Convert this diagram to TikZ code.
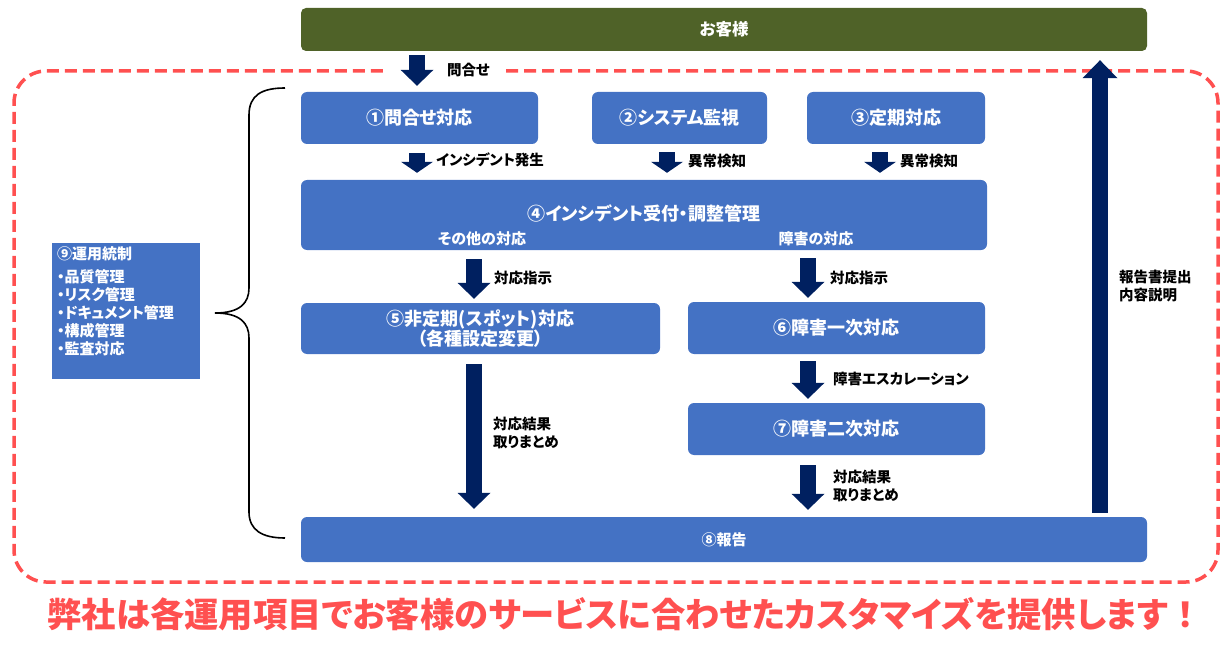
\documentclass[tikz,border=0pt]{standalone}
\usepackage{fontspec}
\setmainfont{Noto Sans CJK JP}[RawFeature=+palt]
\usetikzlibrary{arrows.meta}
\definecolor{custolive}{HTML}{4F6228}
\definecolor{boxblue}{HTML}{4472C4}
\definecolor{arrnavy}{HTML}{002060}
\definecolor{dashred}{HTML}{FF5050}
\tikzset{
  bx/.style={fill=boxblue, rounded corners=6pt, text=white, inner sep=0pt, align=center,
    font=\bfseries\fontsize{18}{19}\selectfont},
  wlbl/.style={text=white, inner sep=0pt, font=\bfseries\fontsize{15}{16}\selectfont},
  lbl/.style={anchor=west, inner sep=0pt, align=left, font=\bfseries\fontsize{14.5}{18}\selectfont},
  blk/.style={draw=arrnavy, line width=16pt, -{Triangle[width=33pt,length=16pt,line width=0pt]}},
  blks/.style={draw=arrnavy, line width=16pt, -{Triangle[width=32pt,length=11pt,line width=0pt]}},
}
\begin{document}
\begin{tikzpicture}[x=1pt,y=-1pt]
\useasboundingbox (0,0) rectangle (1231,647);
% dashed frame
\draw[dashred, line width=3.5pt, dash pattern=on 12pt off 6pt, rounded corners=32pt]
  (506,71) -- (1218,71) -- (1218,582) -- (14,582) -- (14,71) -- (387,71);
% boxes
\node[bx, fill=custolive, rounded corners=5pt, minimum width=846pt, minimum height=43pt,
  font=\bfseries\fontsize{16.5}{18}\selectfont] (cust) at (724,29.5) {お客様};
\node[bx, minimum width=237pt, minimum height=52pt] (b1) at (419.5,118) {①問合せ対応};
\node[bx, minimum width=175pt, minimum height=52pt] (b2) at (679.5,118) {②システム監視};
\node[bx, minimum width=178pt, minimum height=52pt] (b3) at (896,118) {③定期対応};
\node[bx, minimum width=686pt, minimum height=70pt] (b4) at (644,215) {};
\node[text=white, inner sep=0pt, font=\bfseries\fontsize{18}{19}\selectfont] (t4) at (644,213) {④インシデント受付・調整管理};
\node[wlbl] (o4) at (482,239) {その他の対応};
\node[wlbl] (f4) at (816,239) {障害の対応};
\node[bx, minimum width=359pt, minimum height=51pt] (b5) at (480.5,328.5) {⑤非定期(スポット)対応\\（各種設定変更）};
\node[bx, minimum width=297pt, minimum height=52pt] (b6) at (836.5,328) {⑥障害一次対応};
\node[bx, minimum width=297pt, minimum height=52pt] (b7) at (836.5,429) {⑦障害二次対応};
\node[bx, minimum width=846pt, minimum height=45pt, font=\bfseries\fontsize{15}{17}\selectfont] (b8) at (724,539.5) {⑧報告};
\node[fill=boxblue, minimum width=148pt, minimum height=136pt, inner sep=0pt] (b9) at (126,311) {};
\node[anchor=north west, inner sep=0pt, text=white, align=left, font=\bfseries\fontsize{15}{18}\selectfont]
  (t9) at ([xshift=5pt,yshift=-4pt]b9.north west) {⑨運用統制\\[5pt]・品質管理\\・リスク管理\\・ドキュメント管理\\・構成管理\\・監査対応};
% brace
\draw[line width=1.6pt] (285,88) .. controls (262,88) and (249,95) .. (249,115) -- (249,288)
  .. controls (249,303) and (240,313) .. (215,313) .. controls (240,313) and (249,323) .. (249,338)
  -- (249,512) .. controls (249,530) and (262,538) .. (285,538);
% arrow x positions
\coordinate (xq) at (417,0);
\coordinate (xa) at (667,0);
\coordinate (xb) at (880,0);
\coordinate (xl) at (474,0);
\coordinate (xr) at (808,0);
\coordinate (xu) at (1100,0);
% arrows
\draw[blk] ([yshift=-4pt]cust.south -| xq) -- ([yshift=6pt]b1.north -| xq);
\draw[blks] ([yshift=-9pt]b1.south -| xq) -- ([yshift=7pt]b4.north -| xq);
\draw[blks] ([yshift=-8pt]b2.south -| xa) -- ([yshift=7pt]b4.north -| xa);
\draw[blks] ([yshift=-8pt]b3.south -| xb) -- ([yshift=7pt]b4.north -| xb);
\draw[blk] ([yshift=-9pt]b4.south -| xl) -- ([yshift=4pt]b5.north -| xl);
\draw[blk] ([yshift=-8pt]b4.south -| xr) -- ([yshift=4pt]b6.north -| xr);
\draw[blk] ([yshift=-7pt]b6.south -| xr) -- ([yshift=4pt]b7.north -| xr);
\draw[blk] ([yshift=-10pt]b5.south -| xl) -- ([yshift=8pt]b8.north -| xl);
\draw[blk] ([yshift=-10pt]b7.south -| xr) -- ([yshift=7pt]b8.north -| xr);
\draw[blk, -{Triangle[width=35pt,length=18pt,line width=0pt]}] ([yshift=4pt]b8.north -| xu) -- ([yshift=-9pt]cust.south -| xu);
% labels
\node[lbl] (l1) at (447,70) {問合せ};
\node[lbl] (l2) at (436,160) {インシデント発生};
\node[lbl] (l3) at (688,161) {異常検知};
\node[lbl] (l4) at (900,161) {異常検知};
\node[lbl] (l5) at (494,278) {対応指示};
\node[lbl] (l6) at (830,278) {対応指示};
\node[lbl] (l7) at (833,379) {障害エスカレーション};
\node[lbl] (l8) at (493,433) {対応結果\\取りまとめ};
\node[lbl] (l9) at (833,486) {対応結果\\取りまとめ};
\node[lbl] (l10) at (1119,286) {報告書提出\\内容説明};
% message
\node[text=dashred, inner sep=0pt, font=\bfseries\fontsize{34.3}{38}\selectfont] (msg) at (625,614)
  {弊社は各運用項目でお客様のサービスに合わせたカスタマイズを提供します{\addfontfeature{RawFeature=-palt}！}};
\end{tikzpicture}
\end{document}
